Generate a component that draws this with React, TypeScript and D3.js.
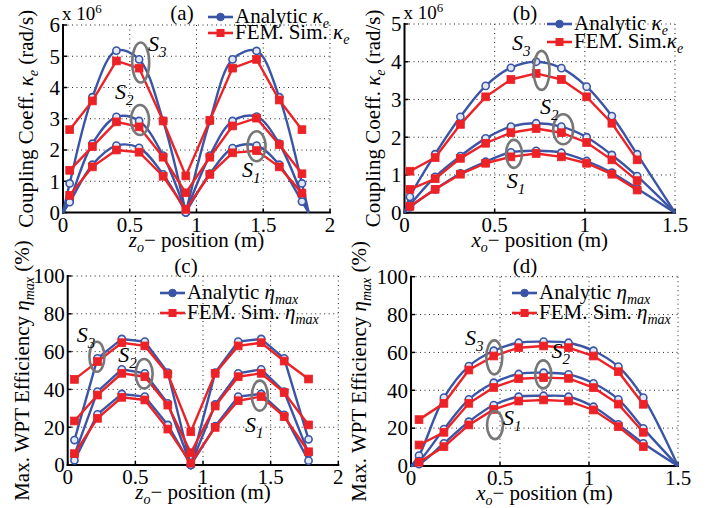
import React from 'react';
import * as d3 from 'd3';

const FONT = "'Liberation Serif', 'Times New Roman', Times, serif";
const BLUE = '#3a55a5';
const RED = '#ec2227';
const GRAY = '#777777';

// ---------- Panel (a): coupling coefficient vs z_o ----------
const zA = [0.05, 0.22, 0.4, 0.57, 0.75, 0.92, 1.1, 1.27, 1.45, 1.62, 1.79];
const aZeros = [0, 0.92, 1.84];
const aAnaS3 = [0.93, 3.69, 5.18, 4.9, 2.93, 0, 2.93, 4.9, 5.17, 3.69, 0.93];
const aAnaS2 = [0.4, 2.2, 3.06, 2.93, 1.82, 0, 1.82, 2.93, 3.07, 2.2, 0.55];
const aAnaS1 = [0.33, 1.53, 2.14, 2.07, 1.22, 0, 1.24, 2.06, 2.14, 1.53, 0.35];
const aFemS3 = [2.65, 3.57, 4.85, 4.62, 2.93, 1.17, 2.95, 4.62, 4.9, 3.6, 2.65];
const aFemS2 = [1.35, 2.11, 2.9, 2.74, 1.77, 0.63, 1.77, 2.77, 3.02, 2.17, 1.24];
const aFemS1 = [0.55, 1.46, 2.0, 1.93, 1.16, 0.1, 1.22, 1.91, 1.98, 1.46, 0.62];

// ---------- Panel (b): coupling coefficient vs x_o ----------
const xB = [0.03, 0.17, 0.31, 0.45, 0.59, 0.73, 0.87, 1.01, 1.15, 1.29];
const bZeros = [0, 1.5];
const bAnaS3 = [0.42, 1.55, 2.54, 3.36, 3.84, 4.0, 3.83, 3.34, 2.56, 1.55];
const bAnaS2 = [0.2, 0.95, 1.5, 1.97, 2.28, 2.37, 2.28, 2.0, 1.53, 0.97];
const bAnaS1 = [0.14, 0.62, 1.04, 1.35, 1.6, 1.64, 1.59, 1.37, 1.06, 0.64];
const bFemS3 = [1.1, 1.46, 2.34, 3.07, 3.53, 3.69, 3.53, 3.07, 2.37, 1.4];
const bFemS2 = [0.62, 0.9, 1.44, 1.84, 2.12, 2.23, 2.12, 1.86, 1.4, 0.85];
const bFemS1 = [0.17, 0.62, 1.02, 1.31, 1.48, 1.57, 1.48, 1.31, 1.02, 0.6];

// ---------- Panel (c): efficiency vs z_o ----------
const zC = [0.05, 0.22, 0.4, 0.57, 0.74, 0.91, 1.09, 1.26, 1.43, 1.6, 1.78];
const cAnaS3 = [13.2, 56.4, 66.7, 65.3, 48.9, 0, 48.9, 65.3, 66.7, 56.4, 13.6];
const cAnaS2 = [5.5, 38.8, 50.6, 48.5, 32.6, 0, 32.0, 48.5, 50.6, 38.8, 6.2];
const cAnaS1 = [2.5, 26.8, 37.6, 36.2, 21.2, 0, 20.5, 36.2, 37.6, 26.5, 2.3];
const cFemS3 = [45.3, 54.7, 64.7, 63.0, 48.1, 17.6, 48.5, 63.0, 64.7, 55.0, 45.5];
const cFemS2 = [23.3, 37.0, 48.5, 46.7, 31.7, 6.5, 31.2, 46.7, 48.5, 38.3, 21.2];
const cFemS1 = [6.0, 24.7, 35.8, 34.4, 19.0, 1.0, 19.9, 34.0, 36.2, 25.6, 7.0];

// ---------- Panel (d): efficiency vs x_o ----------
const xD = [0.045, 0.185, 0.325, 0.465, 0.605, 0.745, 0.885, 1.025, 1.165, 1.305];
const dZeros = [0, 1.5];
const dAnaS3 = [5.5, 36.1, 52.8, 60.9, 65.1, 65.7, 65.1, 60.9, 52.5, 36.1];
const dAnaS2 = [2.5, 19.5, 35.2, 44.0, 48.6, 49.3, 48.4, 43.7, 35.2, 19.9];
const dAnaS1 = [1.0, 12.0, 23.4, 32.2, 36.6, 37.1, 36.6, 31.3, 22.0, 12.0];
const dFemS3 = [24.5, 33.1, 50.7, 58.1, 62.5, 63.4, 62.5, 58.1, 49.8, 32.6];
const dFemS2 = [11.1, 17.8, 33.1, 41.5, 46.1, 46.7, 46.3, 41.4, 32.7, 17.8];
const dFemS1 = [2.0, 10.2, 21.7, 29.9, 34.3, 34.9, 34.3, 29.6, 20.8, 10.2];

// tick values
const xTicks2 = [0, 0.5, 1, 1.5, 2];
const xTicks15 = [0, 0.5, 1, 1.5];
const yTicksA = [0, 1, 2, 3, 4, 5, 6];
const yTicksB = [0, 1, 2, 3, 4, 5];
const yTicksEff = [0, 20, 40, 60, 80, 100];

type Ann = { ex: number; ey: number; rx: number; ry: number; lx: number; ly: number; sub: string };

const annA: Ann[] = [
  { ex: 0.582, ey: 4.8, rx: 8.5, ry: 20, lx: 0.637, ly: 5.16, sub: '3' },
  { ex: 0.577, ey: 2.96, rx: 9, ry: 15, lx: 0.39, ly: 3.62, sub: '2' },
  { ex: 1.45, ey: 2.12, rx: 9, ry: 15, lx: 1.34, ly: 1.15, sub: '1' },
];
const annB: Ann[] = [
  { ex: 0.76, ey: 3.77, rx: 8, ry: 19.5, lx: 0.596, ly: 4.32, sub: '3' },
  { ex: 0.88, ey: 2.21, rx: 10, ry: 15, lx: 0.752, ly: 2.62, sub: '2' },
  { ex: 0.607, ey: 1.56, rx: 8, ry: 14, lx: 0.567, ly: 0.66, sub: '1' },
];
const annC: Ann[] = [
  { ex: 0.216, ey: 57.3, rx: 7.5, ry: 15, lx: 0.067, ly: 65, sub: '3' },
  { ex: 0.565, ey: 48.3, rx: 8.5, ry: 14.7, lx: 0.373, ly: 54.5, sub: '2' },
  { ex: 1.42, ey: 36.7, rx: 8, ry: 15, lx: 1.31, ly: 17.5, sub: '1' },
];
const annD: Ann[] = [
  { ex: 0.468, ey: 57.4, rx: 8, ry: 17, lx: 0.303, ly: 64, sub: '3' },
  { ex: 0.743, ey: 48.4, rx: 8, ry: 14, lx: 0.79, ly: 57, sub: '2' },
  { ex: 0.472, ey: 21.6, rx: 8, ry: 14, lx: 0.517, ly: 21.6, sub: '1' },
];

type PanelCfg = {
  left: number; right: number; top: number; bottom: number;
  xDomain: [number, number]; yDomain: [number, number];
  xTicks: number[]; yTicks: number[];
  xs: number[]; ana: number[][]; fem: number[][];
  zeros: number[] | null; smooth: boolean;
  ann: Ann[];
  kind: 'k' | 'eta'; xVar: string; femSpace: boolean;
  yLabelX: number; legendX: number; legendY: number; legendGap: number;
  tag: string; tagX: number; tagY: number;
  exp: boolean;
};

function buildSegments(xs: number[], ys: number[], zeros: number[] | null): [number, number][][] {
  let pts: [number, number][] = xs.map((x, i) => [x, ys[i]]);
  if (!zeros) return [pts];
  zeros.forEach((z) => {
    if (!pts.some((p) => Math.abs(p[0] - z) < 1e-6)) pts.push([z, 0]);
  });
  pts.sort((a, b) => a[0] - b[0]);
  const inner = zeros.slice(1, -1);
  const segs: [number, number][][] = [];
  let cur: [number, number][] = [];
  pts.forEach((p) => {
    cur.push(p);
    if (inner.some((z) => Math.abs(z - p[0]) < 1e-6)) {
      segs.push(cur);
      cur = [p];
    }
  });
  segs.push(cur);
  return segs;
}

function Panel({ c }: { c: PanelCfg }) {
  const x = d3.scaleLinear().domain(c.xDomain).range([c.left, c.right]);
  const y = d3.scaleLinear().domain(c.yDomain).range([c.bottom, c.top]);
  const lin = d3.line<[number, number]>().x((d) => x(d[0])).y((d) => y(d[1]));
  const smooth = d3
    .line<[number, number]>()
    .x((d) => x(d[0]))
    .y((d) => y(d[1]))
    .curve(d3.curveCatmullRom.alpha(0.5));
  const anaGen = c.smooth ? smooth : lin;
  const dot = '1 3.5';
  const cx = (c.left + c.right) / 2;
  const cy = (c.top + c.bottom) / 2;
  const greek = c.kind === 'k' ? 'κ' : 'η';
  const gsub = c.kind === 'k' ? 'e' : 'max';

  const sym = (size: number) => [
    <tspan key="g" fontStyle="italic">{greek}</tspan>,
    <tspan key="s" fontStyle="italic" fontSize={size} dy={5}>{gsub}</tspan>,
  ];

  const g2 = c.legendGap;

  return (
    <g>
      {/* grid */}
      {c.xTicks.filter((t) => t !== c.xDomain[0]).map((t) => (
        <line key={'gx' + t} x1={x(t)} x2={x(t)} y1={c.top} y2={c.bottom} stroke="#222" strokeWidth={1} strokeDasharray={dot} />
      ))}
      {c.yTicks.filter((t) => t !== c.yDomain[0]).map((t) => (
        <line key={'gy' + t} x1={c.left} x2={c.right} y1={y(t)} y2={y(t)} stroke="#222" strokeWidth={1} strokeDasharray={dot} />
      ))}
      {/* tick marks */}
      {c.xTicks.map((t) => (
        <line key={'tx' + t} x1={x(t)} x2={x(t)} y1={c.bottom} y2={c.bottom - 4} stroke="#000" strokeWidth={1.5} />
      ))}
      {c.yTicks.map((t) => (
        <line key={'ty' + t} x1={c.left} x2={c.left + 4} y1={y(t)} y2={y(t)} stroke="#000" strokeWidth={1.5} />
      ))}
      {/* axes */}
      <line x1={c.left} x2={c.left} y1={c.top - 1} y2={c.bottom + 1} stroke="#000" strokeWidth={2} />
      <line x1={c.left - 1} x2={c.right + 1} y1={c.bottom} y2={c.bottom} stroke="#000" strokeWidth={2} />
      {/* tick labels */}
      {c.xTicks.map((t) => (
        <text key={'lx' + t} x={x(t)} y={c.bottom + 19} textAnchor="middle" fontSize={21}>{d3.format('~g')(t)}</text>
      ))}
      {c.yTicks.map((t) => (
        <text key={'ly' + t} x={c.left - 3} y={y(t)} dy="0.35em" textAnchor="end" fontSize={21}>{String(t)}</text>
      ))}
      {/* analytic series */}
      {c.ana.map((vals, si) =>
        buildSegments(c.xs, vals, c.zeros).map((seg, k) => (
          <path key={'a' + si + '-' + k} d={anaGen(seg) || ''} fill="none" stroke={BLUE} strokeWidth={2.4} />
        ))
      )}
      {c.ana.map((vals, si) =>
        vals.map((v, i) => (
          <circle key={'ac' + si + '-' + i} cx={x(c.xs[i])} cy={y(v)} r={3.6} fill="#e4e8f4" stroke={BLUE} strokeWidth={1.6} />
        ))
      )}
      {/* FEM series */}
      {c.fem.map((vals, si) => (
        <path key={'f' + si} d={lin(c.xs.map((xx, i) => [xx, vals[i]] as [number, number])) || ''} fill="none" stroke={RED} strokeWidth={2.4} />
      ))}
      {c.fem.map((vals, si) =>
        vals.map((v, i) => (
          <rect key={'fr' + si + '-' + i} x={x(c.xs[i]) - 3.9} y={y(v) - 3.9} width={7.8} height={7.8} fill={RED} stroke={RED} strokeWidth={0.8} />
        ))
      )}
      {/* annotations */}
      {c.ann.map((a, i) => (
        <g key={'an' + i}>
          <ellipse cx={x(a.ex)} cy={y(a.ey)} rx={a.rx} ry={a.ry} fill="none" stroke={GRAY} strokeWidth={2.6} />
          <text x={x(a.lx)} y={y(a.ly)} fontSize={22} fontStyle="italic">
            S<tspan fontSize={15} dy={6}>{a.sub}</tspan>
          </text>
        </g>
      ))}
      {/* legend */}
      <g>
        <line x1={c.legendX} x2={c.legendX + 25} y1={c.legendY} y2={c.legendY} stroke={BLUE} strokeWidth={2.6} />
        <circle cx={c.legendX + 12.5} cy={c.legendY} r={3.8} fill={BLUE} stroke={BLUE} />
        <text x={c.legendX + 27} y={c.legendY + 6} fontSize={21}>
          Analytic {sym(14)}
        </text>
        <line x1={c.legendX} x2={c.legendX + 25} y1={c.legendY + g2} y2={c.legendY + g2} stroke={RED} strokeWidth={2.6} />
        <rect x={c.legendX + 8.5} y={c.legendY + g2 - 4} width={8} height={8} fill={RED} />
        <text x={c.legendX + 27} y={c.legendY + g2 + 6} fontSize={21}>
          {c.femSpace ? 'FEM. Sim. ' : 'FEM. Sim.'}{sym(14)}
        </text>
      </g>
      {/* panel tag */}
      <text x={c.tagX} y={c.tagY} textAnchor="middle" fontSize={21}>{c.tag}</text>
      {/* exponent */}
      {c.exp && (
        <text x={c.left - 1} y={c.top - 5} fontSize={19}>
          x 10<tspan fontSize={13} dy={-7}>6</tspan>
        </text>
      )}
      {/* x label */}
      <text x={cx} y={c.bottom + 34} textAnchor="middle" fontSize={21}>
        <tspan fontStyle="italic">{c.xVar}</tspan>
        <tspan fontStyle="italic" fontSize={14} dy={5}>o</tspan>
        <tspan dy={-5}>− position (m)</tspan>
      </text>
      {/* y label */}
      <text transform={`translate(${c.yLabelX},${cy}) rotate(-90)`} textAnchor="middle" fontSize={21}>
        {c.kind === 'k' ? 'Coupling Coeff. ' : 'Max. WPT Efficiency '}
        {sym(14)}
        <tspan dy={-5}>{c.kind === 'k' ? ' (rad/s)' : ' (%)'}</tspan>
      </text>
    </g>
  );
}

const panels: PanelCfg[] = [
  {
    left: 63, right: 330, top: 25, bottom: 212.5, xDomain: [0, 2], yDomain: [0, 6],
    xTicks: xTicks2, yTicks: yTicksA, xs: zA, ana: [aAnaS3, aAnaS2, aAnaS1], fem: [aFemS3, aFemS2, aFemS1],
    zeros: aZeros, smooth: true, ann: annA, kind: 'k', xVar: 'z', femSpace: true,
    yLabelX: 33, legendX: 208, legendY: 17, legendGap: 16, tag: '(a)', tagX: 182, tagY: 20, exp: true,
  },
  {
    left: 404.5, right: 675, top: 24, bottom: 212.7, xDomain: [0, 1.5], yDomain: [0, 5],
    xTicks: xTicks15, yTicks: yTicksB, xs: xB, ana: [bAnaS3, bAnaS2, bAnaS1], fem: [bFemS3, bFemS2, bFemS1],
    zeros: bZeros, smooth: true, ann: annB, kind: 'k', xVar: 'x', femSpace: false,
    yLabelX: 380, legendX: 547, legendY: 24, legendGap: 18, tag: '(b)', tagX: 525, tagY: 20, exp: true,
  },
  {
    left: 67.7, right: 338.3, top: 276, bottom: 465, xDomain: [0, 2], yDomain: [0, 100],
    xTicks: xTicks2, yTicks: yTicksEff, xs: zC, ana: [cAnaS3, cAnaS2, cAnaS1], fem: [cFemS3, cFemS2, cFemS1],
    zeros: null, smooth: false, ann: annC, kind: 'eta', xVar: 'z', femSpace: true,
    yLabelX: 29, legendX: 160, legendY: 293, legendGap: 20, tag: '(c)', tagX: 186, tagY: 273, exp: false,
  },
  {
    left: 411, right: 678, top: 276.7, bottom: 466, xDomain: [0, 1.5], yDomain: [0, 100],
    xTicks: xTicks15, yTicks: yTicksEff, xs: xD, ana: [dAnaS3, dAnaS2, dAnaS1], fem: [dFemS3, dFemS2, dFemS1],
    zeros: dZeros, smooth: true, ann: annD, kind: 'eta', xVar: 'x', femSpace: true,
    yLabelX: 366, legendX: 512, legendY: 293, legendGap: 20, tag: '(d)', tagX: 525, tagY: 273, exp: false,
  },
];

export default function App() {
  return (
    <svg
      width={709}
      height={508}
      viewBox="0 0 709 508"
      style={{ position: 'absolute', left: 0, top: 0, background: '#fff', fontFamily: FONT }}
    >
      <rect x={0} y={0} width={709} height={508} fill="#fff" />
      {panels.map((p, i) => (
        <Panel key={i} c={p} />
      ))}
    </svg>
  );
}
